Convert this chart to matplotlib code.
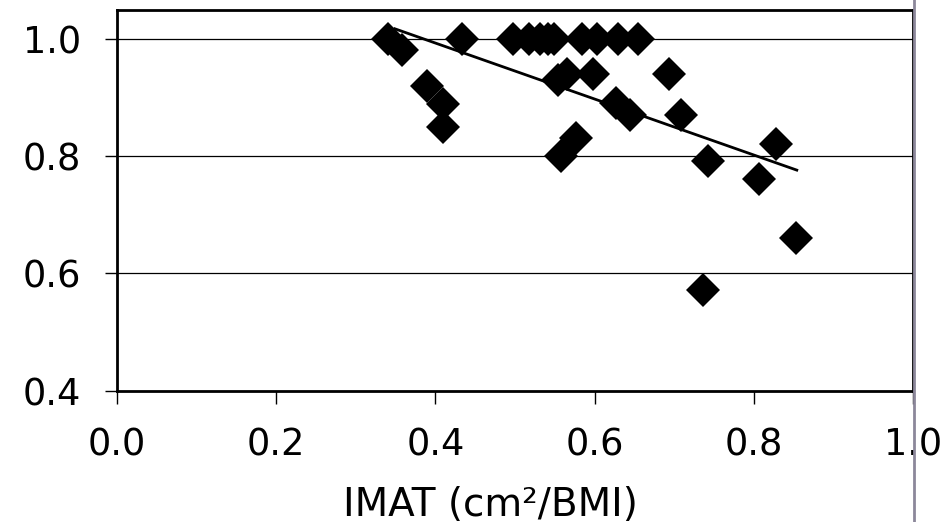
import numpy as np
from matplotlib import pyplot as plt

# IMAT (cm2/BMI) vs outcome
imat = [0.341, 0.358, 0.389, 0.409, 0.410, 0.433,
        0.497, 0.518, 0.532, 0.542, 0.549, 0.554, 0.565,
        0.558, 0.577, 0.584, 0.598, 0.603, 0.627, 0.630,
        0.644, 0.655, 0.693, 0.708, 0.736, 0.742, 0.807,
        0.828, 0.853]
score = [1.000, 0.981, 0.920, 0.889, 0.850, 1.000,
         1.000, 1.000, 1.000, 1.000, 1.000, 0.930, 0.940,
         0.800, 0.831, 1.000, 0.940, 1.000, 0.890, 1.000,
         0.870, 1.000, 0.940, 0.870, 0.571, 0.791, 0.761,
         0.821, 0.661]

# linear trend line, endpoints
trend_x = [0.349, 0.854]
trend_y = [1.017, 0.776]

x_ticks = [0.0, 0.2, 0.4, 0.6, 0.8, 1.0]
y_ticks = [0.4, 0.6, 0.8, 1.0]

fig = plt.figure(figsize=(9.47, 5.22), dpi=100)
ax = fig.add_axes([0.1236, 0.2517, 0.8405, 0.7291])

ax.plot(imat, score, linestyle='none', marker='D', markersize=17,
        color='black', markeredgewidth=0, zorder=3)
ax.plot(trend_x, trend_y, color='black', linewidth=2, zorder=4)

ax.set_xlim(0.0, 1.0)
ax.set_ylim(0.4, 1.049)
ax.set_xticks(x_ticks)
ax.set_yticks(y_ticks)
ax.set_xticklabels([f'{v:.1f}' for v in x_ticks])
ax.set_yticklabels([f'{v:.1f}' for v in y_ticks])

for y in y_ticks[1:]:
    ax.axhline(y, color='black', linewidth=0.9, zorder=1)

for s in ax.spines.values():
    s.set_linewidth(2)
    s.set_color('black')

ax.tick_params(axis='both', direction='out', length=9, width=1,
               labelsize=26.5, pad=17)
ax.set_xlabel('IMAT (cm²/BMI)', fontsize=28, labelpad=20)
ax.xaxis.set_label_coords(0.469, -0.25)

# grey vertical rule running the full height at the right edge
ax.axvline(1.0015, ymin=-0.35, ymax=1.03, color='#8c879a', linewidth=2,
           clip_on=False, zorder=10)

fig.savefig('out.png', dpi=100)
